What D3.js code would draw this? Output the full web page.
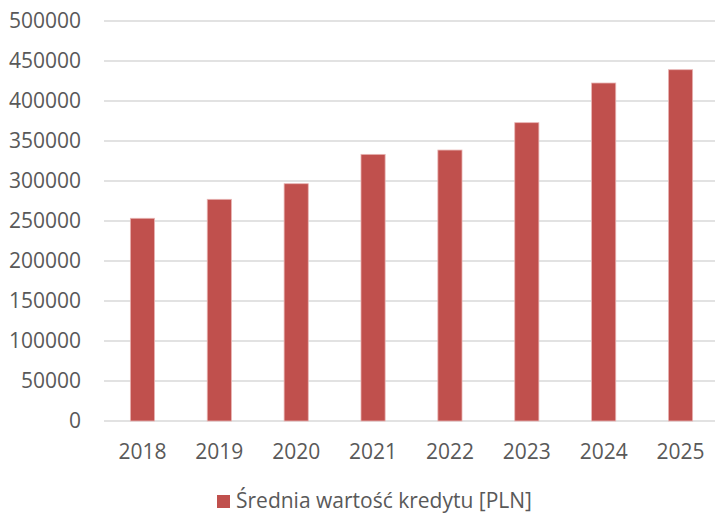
<!DOCTYPE html>
<html lang="pl">
<head>
<meta charset="UTF-8">
<title>Średnia wartość kredytu</title>
<script src="https://d3js.org/d3.v7.min.js"></script>
<style>
  body { margin: 0; background: #fff; }
  text { font-family: "Open Sans", "Noto Sans", sans-serif; fill: #595959; }
</style>
</head>
<body>
<div id="chart"></div>
<script>
// data
const years = ["2018", "2019", "2020", "2021", "2022", "2023", "2024", "2025"];
const values = [253400, 277100, 296600, 333300, 338700, 372900, 422500, 439100];
const yTicks = [0, 50000, 100000, 150000, 200000, 250000, 300000, 350000, 400000, 450000, 500000];
const seriesName = "Średnia wartość kredytu [PLN]";

const W = 715, H = 515;
const plot = {left: 104, right: 719, top: 21, bottom: 421};

const svg = d3.select("#chart").append("svg")
  .attr("width", W).attr("height", H);

const x = d3.scaleBand()
  .domain(years)
  .range([plot.left, plot.right])
  .paddingInner(0.686)
  .paddingOuter(0.343);

const y = d3.scaleLinear()
  .domain([0, 500000])
  .range([plot.bottom, plot.top]);

// gridlines
svg.append("g")
  .selectAll("line")
  .data(yTicks)
  .join("line")
    .attr("x1", plot.left).attr("x2", W)
    .attr("y1", d => y(d)).attr("y2", d => y(d))
    .attr("stroke", "#d9d9d9")
    .attr("stroke-width", 1.5);

// y labels
svg.append("g")
  .selectAll("text")
  .data(yTicks)
  .join("text")
    .attr("x", 81)
    .attr("y", d => y(d))
    .attr("dy", "0.35em")
    .attr("text-anchor", "end")
    .style("font-size", "21px")
    .text(d => d);

// bars
svg.append("g")
  .selectAll("rect")
  .data(values)
  .join("rect")
    .attr("x", (d, i) => x(years[i]))
    .attr("y", d => y(d))
    .attr("width", x.bandwidth())
    .attr("height", d => y(0) - y(d))
    .attr("fill", "#c0504d")
    .attr("stroke", "#e8b4b3")
    .attr("stroke-width", 0.8);

// x labels
svg.append("g")
  .selectAll("text")
  .data(years)
  .join("text")
    .attr("x", d => x(d) + x.bandwidth() / 2)
    .attr("y", 452)
    .attr("dy", "0.35em")
    .attr("text-anchor", "middle")
    .style("font-size", "21px")
    .text(d => d);

// legend
const lg = svg.append("g");
lg.append("rect")
  .attr("x", 217).attr("y", 495)
  .attr("width", 13).attr("height", 13)
  .attr("fill", "#c0504d");
lg.append("text")
  .attr("x", 236).attr("y", 501)
  .attr("dy", "0.35em")
  .style("font-size", "21px")
  .text(seriesName);
</script>
</body>
</html>
